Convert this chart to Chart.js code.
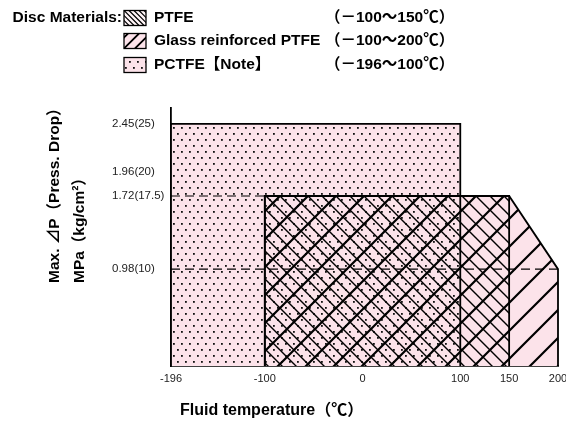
<!DOCTYPE html>
<html>
<head>
<meta charset="utf-8">
<script src="https://cdn.jsdelivr.net/npm/chart.js@4/dist/chart.umd.min.js"></script>
<style>
    html, body { margin: 0; padding: 0; background: #fff; }
    #wrap { width: 566px; height: 421px; position: relative; }
</style>
</head>
<body>
<div id="wrap"><canvas id="chart"></canvas></div>
<script>
// outlines of each disc material region (temperature, pressure MPa)
const pctfeT = [-196, -196, 100, 100];
const pctfeP = [0, 2.45, 2.45, 0];
const ptfeT = [-100, -100, 150, 150];
const ptfeP = [0, 1.72, 1.72, 0];
const glassT = [-100, -100, 150, 200, 200];
const glassP = [0, 1.72, 1.72, 0.98, 0];

// dashed reference lines
const dashHighT = [-196, -100];
const dashHighP = [1.72, 1.72];
const dashLowT = [-196, 200];
const dashLowP = [0.98, 0.98];

// ticks
const tempTicks = [-196, -100, 0, 100, 150, 200];
const pressTicks = [0.98, 1.72, 1.96, 2.45];
const pressLabels = ['0.98(10)', '1.72(17.5)', '1.96(20)', '2.45(25)'];

const legendNames = ['PTFE', 'Glass reinforced PTFE', 'PCTFE\u3010Note\u3011'];
const legendRanges = ['\uff08\uff0d100\uff5e150\u2103\uff09', '\uff08\uff0d100\uff5e200\u2103\uff09', '\uff08\uff0d196\uff5e100\u2103\uff09'];

const PINK = '#fce3ea';
const FONT = '"Liberation Sans", Arial, "Noto Sans CJK JP", sans-serif';

function pts(xs, ys) {
    return xs.map((x, i) => ({ x: x, y: ys[i] }));
}

function tile(w, h, draw) {
    const c = document.createElement('canvas');
    c.width = w; c.height = h;
    const g = c.getContext('2d');
    draw(g, w, h);
    return document.getElementById('chart').getContext('2d').createPattern(c, 'repeat');
}

function hatch(size, width, dir) {
    return tile(size, size, (g, s) => {
        g.strokeStyle = '#000';
        g.lineWidth = width;
        g.beginPath();
        for (let k = -1; k <= 1; k++) {
            if (dir === '\\') {
                g.moveTo(k * s - 1, -1); g.lineTo(k * s + s + 1, s + 1);
            } else {
                g.moveTo(k * s - 1, s + 1); g.lineTo(k * s + s + 1, -1);
            }
        }
        g.stroke();
    });
}

const dotPattern = tile(8, 12, (g, w, h) => {
    g.fillStyle = PINK; g.fillRect(0, 0, w, h);
    g.fillStyle = '#111';
    g.fillRect(1, 1, 1.8, 1.8);
    g.fillRect(5, 7, 1.8, 1.8);
});
const backPattern = hatch(14, 1.4, '\\');
const fwdPattern = hatch(28, 2.2, '/');

const labelsPlugin = {
    id: 'labels',
    afterDraw(chart) {
        const ctx = chart.ctx;
        ctx.save();
        ctx.fillStyle = '#000';
        ctx.textBaseline = 'middle';
        ctx.font = 'bold 15.5px ' + FONT;
        ctx.textAlign = 'right';
        ctx.fillText('Disc Materials:', 122, 18);

        const rows = [18, 41, 65];
        rows.forEach((cy, i) => {
            const bx = 124, by = cy - 7.5, bw = 22, bh = 15;
            ctx.save();
            ctx.beginPath();
            ctx.rect(bx, by, bw, bh);
            ctx.clip();
            ctx.fillStyle = i === 0 ? '#fff5f7' : i === 1 ? PINK : dotPattern;
            ctx.fillRect(bx, by, bw, bh);
            ctx.strokeStyle = '#000';
            if (i === 0) {
                ctx.lineWidth = 1.2;
                ctx.beginPath();
                for (let k = -4; k < 9; k++) {
                    ctx.moveTo(bx + k * 5, by); ctx.lineTo(bx + k * 5 + bh, by + bh);
                }
                ctx.stroke();
            } else if (i === 1) {
                ctx.lineWidth = 1.8;
                ctx.beginPath();
                for (let k = -2; k < 4; k++) {
                    ctx.moveTo(bx + k * 11, by + bh); ctx.lineTo(bx + k * 11 + bh, by);
                }
                ctx.stroke();
            }
            ctx.restore();
            ctx.strokeStyle = '#000';
            ctx.lineWidth = 1.3;
            ctx.strokeRect(bx, by, bw, bh);

            ctx.textAlign = 'left';
            ctx.fillStyle = '#000';
            ctx.font = 'bold 15.5px ' + FONT;
            ctx.fillText(legendNames[i], 154, cy);
            ctx.fillText(legendRanges[i], 325, cy);
        });

        // axis titles
        ctx.font = 'bold 16px ' + FONT;
        ctx.textAlign = 'left';
        ctx.fillText('Fluid temperature\uff08\u2103\uff09', 180, 411);

        ctx.font = 'bold 15.5px ' + FONT;
        ctx.save();
        ctx.translate(55, 283);
        ctx.rotate(-Math.PI / 2);
        ctx.fillText('Max. \u22bfP\uff08Press. Drop\uff09', 0, 0);
        ctx.restore();
        ctx.save();
        ctx.translate(80, 283);
        ctx.rotate(-Math.PI / 2);
        ctx.fillText('MPa\uff08kg/cm\u00b2\uff09', 0, 0);
        ctx.restore();
        ctx.restore();
    }
};

const base = { pointRadius: 0, tension: 0, clip: false };

new Chart(document.getElementById('chart'), {
    type: 'line',
    data: {
        datasets: [
            { ...base, data: pts(glassT, glassP), fill: 'origin', backgroundColor: PINK, borderWidth: 0, order: 9 },
            { ...base, data: pts(pctfeT, pctfeP), fill: 'origin', backgroundColor: dotPattern, borderWidth: 0, order: 8 },
            { ...base, data: pts(glassT, glassP), fill: 'origin', backgroundColor: fwdPattern, borderWidth: 0, order: 7 },
            { ...base, data: pts(ptfeT, ptfeP), fill: 'origin', backgroundColor: backPattern, borderWidth: 0, order: 6 },
            { ...base, data: pts(pctfeT, pctfeP), fill: false, borderColor: '#000', borderWidth: 1.8, order: 5 },
            { ...base, data: pts(glassT, glassP), fill: false, borderColor: '#000', borderWidth: 1.8, order: 4 },
            { ...base, data: pts(ptfeT, ptfeP), fill: false, borderColor: '#000', borderWidth: 1.8, order: 3 },
            { ...base, data: pts(dashHighT, dashHighP), fill: false, borderColor: '#000', borderWidth: 1.1, borderDash: [9, 5], order: 2 },
            { ...base, data: pts(dashLowT, dashLowP), fill: false, borderColor: '#000', borderWidth: 1.1, borderDash: [9, 5], order: 1 }
        ]
    },
    options: {
        responsive: true,
        maintainAspectRatio: false,
        animation: false,
        layout: { padding: { top: 108, left: 112, right: 8, bottom: 0 } },
        plugins: { legend: { display: false }, tooltip: { enabled: false } },
        scales: {
            x: {
                type: 'linear',
                min: -196,
                max: 200,
                afterBuildTicks: s => { s.ticks = tempTicks.map(v => ({ value: v })); },
                afterFit: s => { s.height = 55; s.paddingLeft = 0; s.paddingRight = 0; },
                grid: { display: false, drawTicks: false },
                border: { display: true, color: '#000', width: 1.8 },
                ticks: { padding: 6, color: '#222', font: { size: 11, family: FONT }, maxRotation: 0, autoSkip: false }
            },
            y: {
                type: 'linear',
                min: 0,
                max: 2.61,
                afterBuildTicks: s => { s.ticks = pressTicks.map(v => ({ value: v })); },
                afterFit: s => { s.width = 59; s.paddingTop = 0; s.paddingBottom = 0; },
                grid: { display: false, drawTicks: false },
                border: { display: true, color: '#000', width: 1.8 },
                ticks: {
                    padding: 6,
                    crossAlign: 'far',
                    color: '#222',
                    font: { size: 11.5, family: FONT },
                    autoSkip: false,
                    callback: v => {
                        const i = pressTicks.indexOf(v);
                        return i >= 0 ? pressLabels[i] : '';
                    }
                }
            }
        }
    },
    plugins: [labelsPlugin]
});
</script>
</body>
</html>
